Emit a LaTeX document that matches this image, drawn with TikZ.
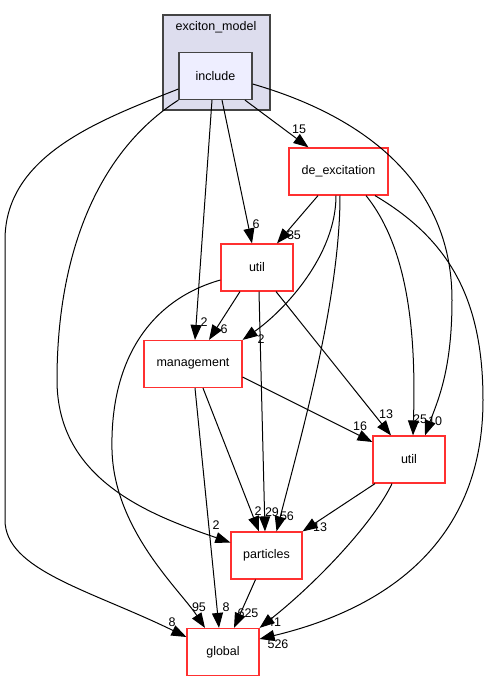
\documentclass[tikz,border=0pt]{standalone}
\usepackage{fontspec}
\setmainfont{Liberation Sans}
\usetikzlibrary{arrows.meta}

\definecolor{clusterfill}{HTML}{DDDDEE}
\definecolor{incfill}{HTML}{EEEEFF}
\definecolor{darkline}{HTML}{444444}
\definecolor{dirred}{HTML}{FF3030}

\begin{document}
\begin{tikzpicture}[x=1pt, y=-1pt,
  every node/.style={font=\fontsize{12.5}{14}\selectfont},
  dirbox/.style={draw=dirred, line width=1.2pt, fill=white, minimum width=72, minimum height=47, inner sep=0},
  incbox/.style={draw=darkline, line width=1.2pt, fill=incfill, minimum width=73, minimum height=47, inner sep=0},
  clusterbox/.style={draw=darkline, line width=1.2pt, fill=clusterfill, minimum width=107, minimum height=95, inner sep=0},
  dep/.style={-{Triangle[length=15pt,width=11pt]}, line width=1pt},
  cnt/.style={inner sep=0}]
\useasboundingbox (0,0) rectangle (488,681);

% Cluster exciton_model
\node[clusterbox] (exciton) at (216.5,62.5) {};
\node (excitontitle) at (216,27) {exciton\_model};
\node[incbox] (inc) at (215.5,76) {include};

% Directories
\node[dirbox, minimum width=99] (dex) at (338.5,171.5) {de\_excitation};
\node[dirbox] (utilA) at (257,267.5) {util};
\node[dirbox, minimum width=98] (mgmt) at (193,364) {management};
\node[dirbox] (utilB) at (409,459.5) {util};
\node[dirbox, minimum width=71] (part) at (266.5,555.5) {particles};
\node[dirbox] (glob) at (223,652) {global};

% Dependencies from include
\draw[dep] ([xshift=29.5]inc.south) -- ([xshift=-30]dex.north);
\draw[dep] ([xshift=6.5]inc.south) -- ([xshift=-5]utilA.north);
\draw[dep] ([xshift=-3.5]inc.south) -- ([xshift=2]mgmt.north);
\draw[dep] ([yshift=-8]inc.east) .. controls (360,115) and (452,180) .. (452,300)
  .. controls (452,370) and (438,400) .. ([xshift=16]utilB.north);
\draw[dep] (inc.south west) .. controls (100,150) and (57,250) .. (57,380)
  .. controls (57,480) and (150,515) .. ([yshift=13]part.west);
\draw[dep] ([yshift=-13]inc.west) .. controls (100,120) and (5,155) .. (5,240) -- (5,520)
  .. controls (5,570) and (90,590) .. ([yshift=15]glob.west);

% Dependencies from de_excitation
\draw[dep] ([xshift=-20.5]dex.south) -- ([xshift=20]utilA.north);
\draw[dep] ([xshift=-2.5]dex.south) .. controls (336,255) and (285,310) .. (mgmt.north east);
\draw[dep] ([xshift=1.5]dex.south) .. controls (340,300) and (300,440) .. ([xshift=10]part.north);
\draw[dep] ([xshift=27.5]dex.south) .. controls (410,250) and (416,340) .. ([xshift=4]utilB.north);
\draw[dep] ([xshift=36.5]dex.south) .. controls (450,240) and (483,300) .. (483,400)
  .. controls (483,560) and (360,615) .. ([yshift=13]glob.east);

% Dependencies from util
\draw[dep] ([xshift=-17]utilA.south) -- ([xshift=16]mgmt.north);
\draw[dep] ([xshift=2]utilA.south) -- ([xshift=-1.5]part.north);
\draw[dep] ([xshift=19]utilA.south) -- ([xshift=-18]utilB.north);
\draw[dep] ([yshift=-12.5]utilA.west) .. controls (150,300) and (110,360) .. (112,450)
  .. controls (114,530) and (180,590) .. ([xshift=-18]glob.north);

% Dependencies from management
\draw[dep] ([yshift=-13]mgmt.east) -- ([yshift=17.5]utilB.west);
\draw[dep] ([xshift=10]mgmt.south) -- ([xshift=-7.5]part.north);
\draw[dep] ([xshift=2]mgmt.south) -- ([xshift=-4]glob.north);

% Dependencies from lower util and particles
\draw[dep] ([xshift=-34]utilB.south) -- (part.north east);
\draw[dep] ([xshift=-17]utilB.south) .. controls (375,520) and (320,580) .. (glob.north east);
\draw[dep] ([xshift=-11]part.south) -- ([xshift=11]glob.north);

% Edge counts
\node[cnt] (nincdex) at (299,129) {15};
\node[cnt] (nincutilA) at (256,224) {6};
\node[cnt] (ndexutilA) at (294,235) {35};
\node[cnt] (nincmgmt) at (204,322) {2};
\node[cnt] (nutilAmgmt) at (224,329) {6};
\node[cnt] (ndexmgmt) at (261,339) {2};
\node[cnt] (nutilAutilB) at (386,414) {13};
\node[cnt] (nmgmtutilB) at (360,426) {16};
\node[cnt] (ndexutilB) at (420,419) {25};
\node[cnt] (nincutilB) at (435,421) {10};
\node[cnt] (nincpart) at (216,525) {2};
\node[cnt] (nmgmtpart) at (258,511) {2};
\node[cnt] (nutilApart) at (272,512) {29};
\node[cnt] (ndexpart) at (287,516) {56};
\node[cnt] (nutilBpart) at (320,527) {13};
\node[cnt] (nutilAglob) at (199,607) {95};
\node[cnt] (nmgmtglob) at (226,607) {8};
\node[cnt] (npartglob) at (248,613) {625};
\node[cnt] (nutilBglob) at (274,622) {41};
\node[cnt] (nincglob) at (172,622) {8};
\node[cnt] (ndexglob) at (278,644) {526};

\end{tikzpicture}
\end{document}
